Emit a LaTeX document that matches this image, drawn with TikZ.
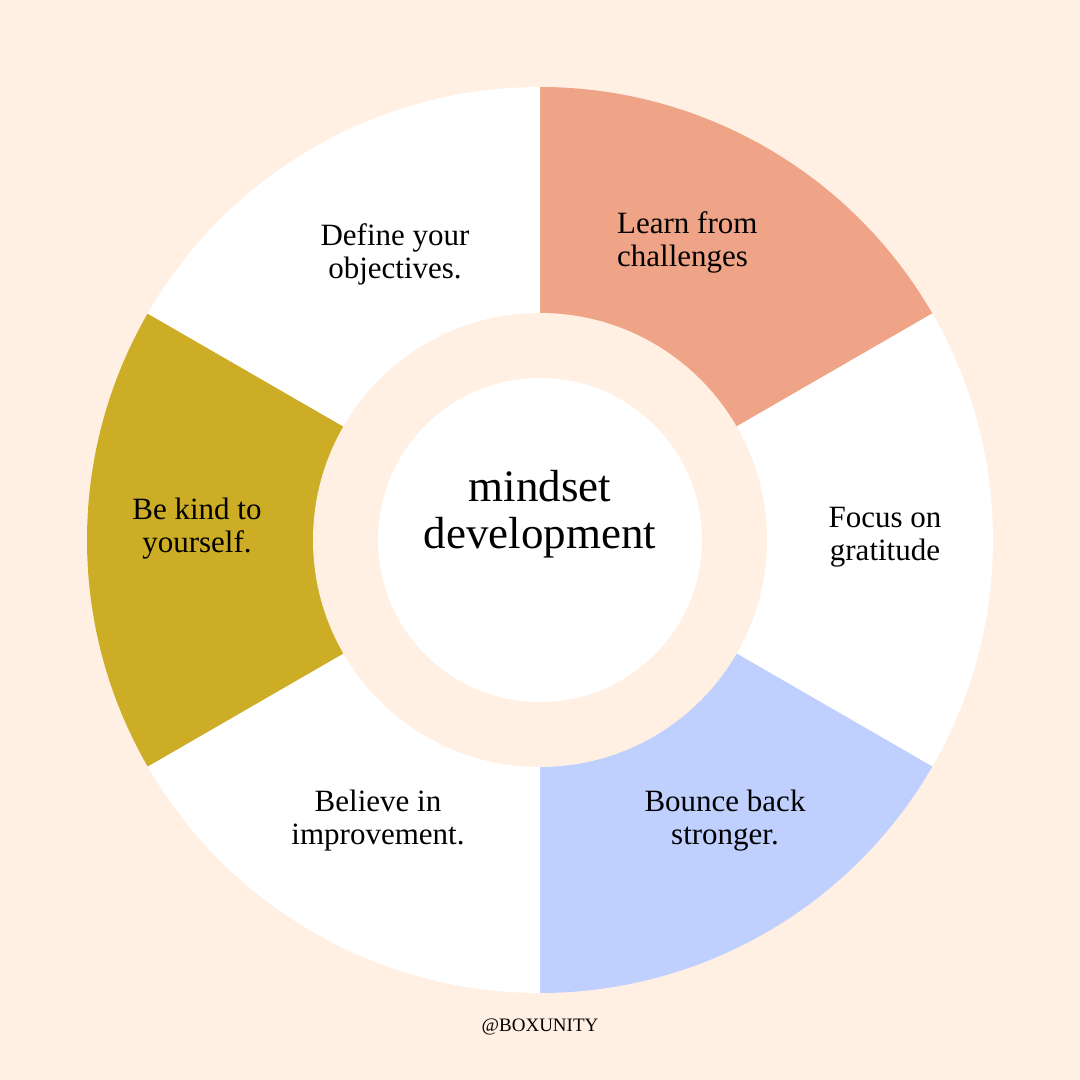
\documentclass[tikz,border=0pt]{standalone}
\usepackage{fontspec}
\setmainfont{Liberation Serif}
\definecolor{bgcream}{HTML}{FFF0E3}
\definecolor{salmon}{HTML}{EFA387}
\definecolor{bluey}{HTML}{BFD0FF}
\definecolor{goldy}{HTML}{CCAD25}
\begin{document}
\begin{tikzpicture}[x=1pt,y=1pt,
  lbl/.style={font=\fontsize{31}{33}\selectfont,align=center,text=black,inner sep=0pt}]
\fill[bgcream] (0,0) rectangle (1080,1080);
\useasboundingbox (0,0) rectangle (1080,1080);
\coordinate (c) at (540,540);
\def\R{453}
\fill[salmon] (c) -- ++(90:\R)   arc[start angle=90,  end angle=30,  radius=\R] -- cycle;
\fill[white]  (c) -- ++(30:\R)   arc[start angle=30,  end angle=-30, radius=\R] -- cycle;
\fill[bluey]  (c) -- ++(-30:\R)  arc[start angle=-30, end angle=-90, radius=\R] -- cycle;
\fill[white]  (c) -- ++(-90:\R)  arc[start angle=-90, end angle=-150,radius=\R] -- cycle;
\fill[goldy]  (c) -- ++(-150:\R) arc[start angle=-150,end angle=-210,radius=\R] -- cycle;
\fill[white]  (c) -- ++(150:\R)  arc[start angle=150, end angle=90,  radius=\R] -- cycle;
\fill[bgcream] (c) circle[radius=227];
\fill[white]   (c) circle[radius=162];
% labels (y = 1080 - reference y)
\node[lbl,font=\fontsize{45}{47}\selectfont] (title) at (540,566) {mindset\\development};
\node[lbl] (obj) at (395,826) {Define your\\objectives.};
\node[lbl,align=left,anchor=west] (learn) at (617,838) {Learn from\\challenges};
\node[lbl] (focus) at (885,543) {Focus on\\gratitude};
\node[lbl] (bounce) at (725,259) {Bounce back\\stronger.};
\node[lbl] (believe) at (378,259) {Believe in\\improvement.};
\node[lbl] (kind) at (197,551) {Be kind to\\yourself.};
\node[lbl,font=\fontsize{19}{21}\selectfont] (brand) at (540,53) {@BOXUNITY};
\end{tikzpicture}
\end{document}
